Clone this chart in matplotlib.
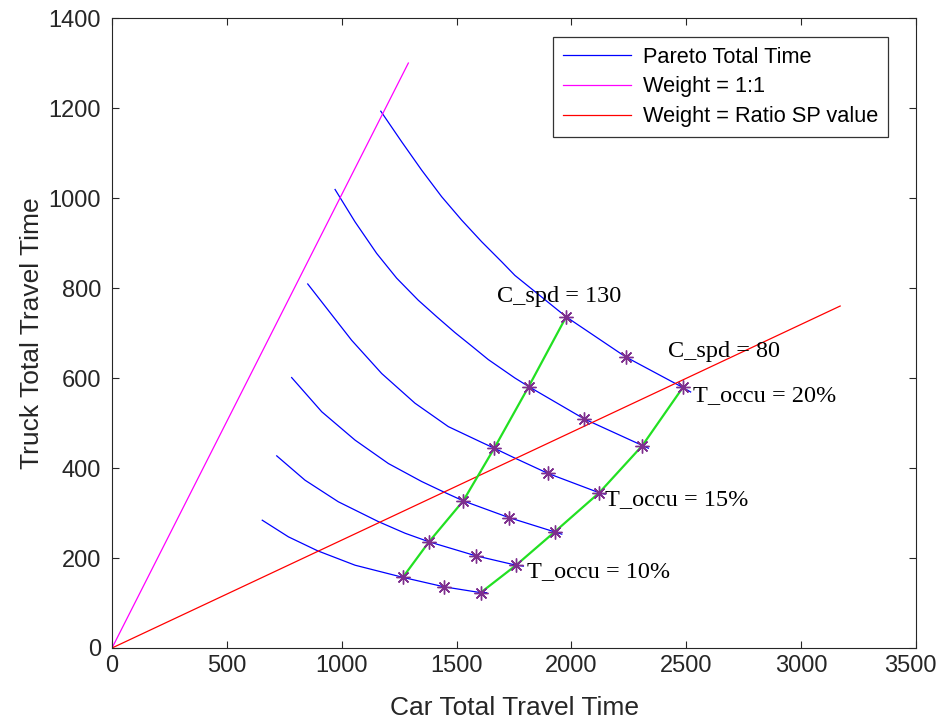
import matplotlib
matplotlib.use("Agg")
import matplotlib.pyplot as plt
import matplotlib.transforms as mtransforms

# ── data ──────────────────────────────────────────────────────────────────────
# Pareto curves, top (T_occu = 20%) to bottom
pareto_x = [
    [1170, 1261, 1348, 1435, 1522, 1609, 1697, 1754, 1977, 2236, 2485, 2519],
    [971, 1058, 1152, 1239, 1333, 1414, 1493, 1566, 1638, 1754, 1814, 2056, 2309, 2335],
    [852, 1043, 1174, 1319, 1464, 1609, 1664, 1754, 1898, 2121, 2146],
    [782, 913, 1058, 1203, 1348, 1443, 1529, 1727, 1927, 1958],
    [717, 840, 985, 1159, 1276, 1380, 1583, 1759, 1791],
    [654, 768, 895, 1058, 1266, 1445, 1605, 1631],
]
pareto_y = [
    [1193, 1125, 1062, 1003, 951, 903, 858, 828, 736, 647, 579, 569],
    [1019, 947, 877, 822, 773, 736, 701, 671, 641, 600, 581, 509, 450, 444],
    [809, 684, 610, 544, 492, 457, 444, 422, 388, 345, 342],
    [601, 525, 462, 410, 370, 347, 327, 290, 258, 253],
    [427, 373, 325, 281, 255, 236, 205, 184, 182],
    [284, 247, 216, 184, 157, 136, 123, 123],
]

# marked points on each curve (C_spd = 130, middle, C_spd = 80)
spd130_x = [1977, 1814, 1664, 1529, 1380, 1266]
spd130_y = [736, 581, 444, 327, 236, 157]
spdmid_x = [2236, 2056, 1898, 1727, 1583, 1445]
spdmid_y = [647, 509, 388, 290, 205, 136]
spd80_x = [2485, 2309, 2121, 1927, 1759, 1605]
spd80_y = [579, 450, 345, 258, 184, 123]

weight11_x = [0, 1290]
weight11_y = [0, 1300]
ratio_x = [0, 3170]
ratio_y = [0, 760]

annotations = [
    ("C_spd = 130", 1675, 782),
    ("C_spd = 80", 2420, 658),
    ("T_occu = 20%", 2529, 562),
    ("T_occu = 15%", 2146, 331),
    ("T_occu = 10%", 1805, 169),
]

BLUE = "#0000ff"
MAGENTA = "#ff00ff"
RED = "#ff0000"
GREEN = "#22e022"
PURPLE = "#7E2F8E"
DARK = "#262626"

plt.rcParams["font.family"] = ["Liberation Sans", "DejaVu Sans"]

fig = plt.figure(figsize=(9.36, 7.22), dpi=100)
ax = fig.add_axes([0.1197, 0.1025, 0.8589, 0.8725])

for i, (xs, ys) in enumerate(zip(pareto_x, pareto_y)):
    ax.plot(xs, ys, color=BLUE, lw=0.9, label="Pareto Total Time" if i == 0 else None)

ax.plot(weight11_x, weight11_y, color=MAGENTA, lw=0.9, label="Weight = 1:1")
ax.plot(ratio_x, ratio_y, color=RED, lw=0.9, label="Weight = Ratio SP value")

ax.plot(spd130_x, spd130_y, color=GREEN, lw=1.6)
ax.plot(spd80_x, spd80_y, color=GREEN, lw=1.6)

for xs, ys in [(spd130_x, spd130_y), (spdmid_x, spdmid_y), (spd80_x, spd80_y)]:
    ax.plot(xs, ys, ls="none", marker=(8, 2, 0), ms=10, mew=1.0,
            color=PURPLE, zorder=4)

for txt, x, y in annotations:
    ax.text(x, y, txt, fontsize=17.5, family=["Liberation Serif"],
            ha="left", va="center", color="black")

ax.set_xlim(0, 3500)
ax.set_ylim(0, 1400)
ax.set_xticks(range(0, 3501, 500))
ax.set_yticks(range(0, 1401, 200))
ax.tick_params(direction="in", top=True, right=True, length=5, width=0.8,
               labelsize=17, colors=DARK)
ax.tick_params(axis="x", pad=5)
ax.tick_params(axis="y", pad=8)
for sp in ax.spines.values():
    sp.set_color(DARK)
    sp.set_linewidth(0.8)

# keep the last x tick label inside the canvas
fig.canvas.draw()
last = ax.get_xticklabels()[-1]
last.set_transform(last.get_transform() +
                   mtransforms.ScaledTranslation(-6 / 100, 0, fig.dpi_scale_trans))

ax.set_xlabel("Car Total Travel Time", fontsize=19, color=DARK, labelpad=14)
ax.set_ylabel("Truck Total Travel Time", fontsize=19, color=DARK, labelpad=3)

leg = ax.legend(loc="upper right", bbox_to_anchor=(0.965, 0.97), fontsize=15.7,
                frameon=True, fancybox=False, edgecolor="black",
                handlelength=3.1, handletextpad=0.55, borderpad=0.45,
                labelspacing=0.4, borderaxespad=0)
leg.get_frame().set_linewidth(0.9)

fig.savefig("out.png", dpi=100)
